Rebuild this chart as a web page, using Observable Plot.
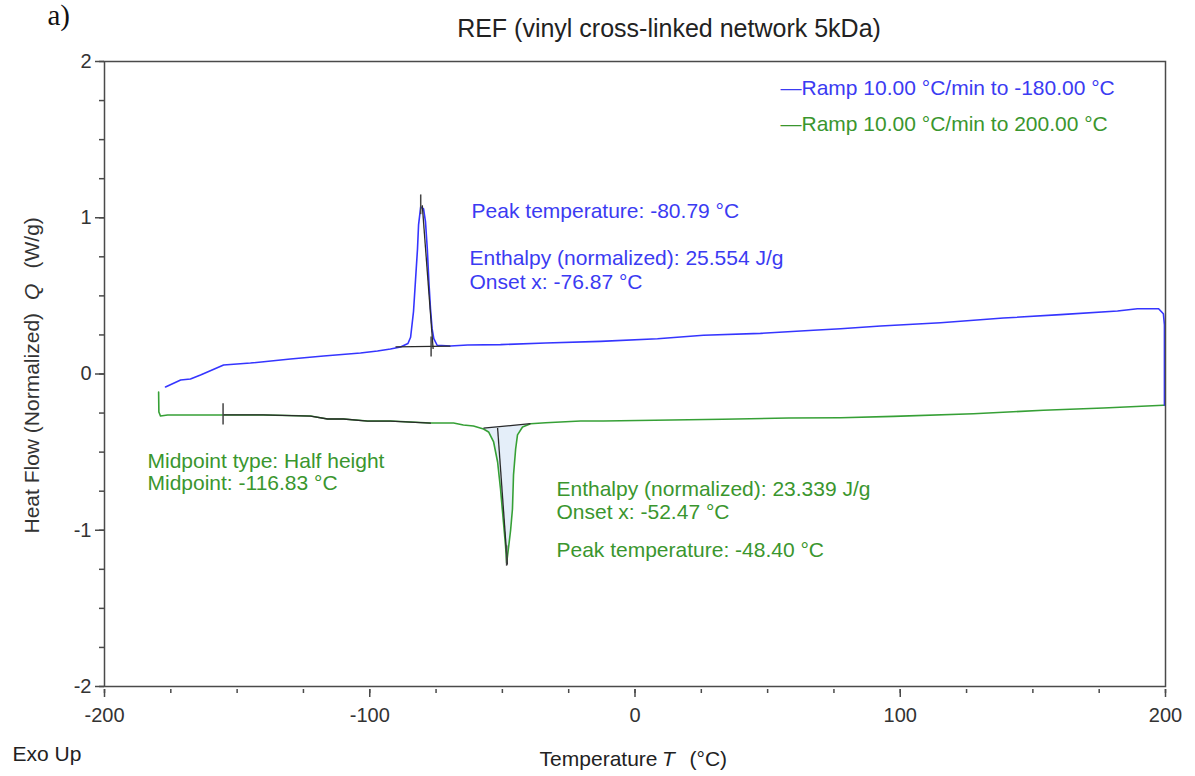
<!DOCTYPE html>
<html>
<head>
<meta charset="utf-8">
<script src="https://cdn.jsdelivr.net/npm/d3@7"></script>
<script src="https://cdn.jsdelivr.net/npm/@observablehq/plot@0.6"></script>
<style>
  body { margin: 0; background: #fff; }
</style>
</head>
<body>
<div id="chart"></div>
<script>
// DSC thermogram, vinyl cross-linked network (5 kDa): cooling and heating ramps.

// Cooling ramp (10 °C/min to -180 °C): temperature (°C) and normalized heat flow (W/g)
const coolT = [-177.0, -171.3, -167.6, -163.8, -155.1, -145.0, -129.9, -117.4, -103.5, -97.1,
  -92.2, -88.4, -85.6, -84.6, -83.5, -82.75, -82.0, -81.6, -80.79, -79.7, -78.98, -78.3, -77.7,
  -77.1, -76.5, -75.85, -74.6, -69.6, -63.1, -50.7, -33.7, -13.0, 8.5, 25.8, 47.3, 67.3,
  77.5, 92.6, 115.2, 138.9, 160.4, 181.9, 189.4, 197.4, 199.2, 199.6, 199.6];
const coolQ = [-0.083, -0.038, -0.032, -0.006, 0.058, 0.070, 0.096, 0.115, 0.134, 0.147,
  0.160, 0.173, 0.195, 0.235, 0.40, 0.60, 0.80, 0.954, 1.07, 1.056, 0.973, 0.80, 0.589,
  0.418, 0.29, 0.226, 0.184, 0.179, 0.186, 0.188, 0.198, 0.209, 0.226, 0.248, 0.260, 0.280,
  0.290, 0.307, 0.328, 0.358, 0.380, 0.403, 0.418, 0.418, 0.386, 0.314, -0.200];

// Heating ramp (10 °C/min to 200 °C)
const heatT = [-179.6, -179.5, -178.9, -176.2, -155.1, -140.1, -122.3, -115.9, -109.9, -100.8,
  -92.2, -77.1, -68.4, -64.7, -60.9, -57.1, -55.2, -53.3, -51.8, -50.7, -49.6, -48.8, -48.4,
  -47.6, -46.9, -46.2, -45.8, -45.0, -44.3, -42.4, -39.4, -33.7, -20.5, -11.9, 33.0, 57.9,
  77.5, 97.5, 127.6, 154.0, 176.6, 199.2, 199.6];
const heatQ = [-0.115, -0.243, -0.269, -0.262, -0.262, -0.262, -0.269, -0.288, -0.288, -0.301,
  -0.301, -0.314, -0.314, -0.326, -0.333, -0.352, -0.371, -0.435, -0.563, -0.736, -0.947, -1.10, -1.21,
  -1.10, -1.0, -0.864, -0.646, -0.48, -0.39, -0.339, -0.318, -0.312, -0.301, -0.301, -0.290, -0.282,
  -0.280, -0.271, -0.254, -0.232, -0.218, -0.200, -0.200];

// Evaluation lines (tangents and baselines) drawn by the analysis software
const evalT1 = [-90.3, -80.2, -57.1, -51.8];
const evalQ1 = [0.173, 1.08, -0.346, -0.346];
const evalT2 = [-69.6, -76.1, -39.4, -48.1];
const evalQ2 = [0.179, 0.16, -0.318, -1.22];

// Vertical evaluation markers: temperature, lower and upper heat flow
const markT = [-80.79, -76.87, -155.3, -48.4];
const markQ1 = [1.02, 0.109, -0.326, -1.23];
const markQ2 = [1.146, 0.237, -0.19, -1.10];

// Glass-transition evaluation range on the heating curve
const tgRange = [-155.1, -77.1];

// Peak integration limits of the melting endotherm
const meltRange = [-57.1, -39.4];
const meltBaseQ = [-0.346, -0.318];

// Result annotations
const annText = [
  "Peak temperature: -80.79 °C",
  "Enthalpy (normalized): 25.554 J/g",
  "Onset x: -76.87 °C",
  "Midpoint type: Half height",
  "Midpoint: -116.83 °C",
  "Enthalpy (normalized): 23.339 J/g",
  "Onset x: -52.47 °C",
  "Peak temperature: -48.40 °C"
];
const annT = [-61.6, -62.4, -62.4, -183.8, -183.8, -29.6, -29.6, -29.6];
const annQ = [1.043, 0.742, 0.589, -0.557, -0.698, -0.736, -0.883, -1.126];
const annSeries = ["cool", "cool", "cool", "heat", "heat", "heat", "heat", "heat"];

const legendLabels = ["Ramp 10.00 °C/min to -180.00 °C", "Ramp 10.00 °C/min to 200.00 °C"];

const xMajor = [-200, -100, 0, 100, 200];
const xMinor = d3.range(-200, 201, 25);
const yMajor = [-2, -1, 0, 1, 2];
const yMinor = d3.range(-2, 2.001, 0.25);

const BLUE = "#3535ff";
const GREEN = "#36a036";
const BLUE_TXT = "#3b3bf2";
const GREEN_TXT = "#3a962e";
const AXIS = "#4a4a4a";
const FONT = "Liberation Sans, Arial, sans-serif";
const plainNumber = d => String(d);

const cooling = coolT.map((T, i) => ({T, Q: coolQ[i]}));
const heating = heatT.map((T, i) => ({T, Q: heatQ[i]}));
const evalLines = evalT1.map((T, i) => ({T1: T, Q1: evalQ1[i], T2: evalT2[i], Q2: evalQ2[i]}));
const markers = markT.map((T, i) => ({T, Q1: markQ1[i], Q2: markQ2[i]}));
const annotations = annText.map((text, i) => ({text, T: annT[i], Q: annQ[i], s: annSeries[i]}));

const baseAt = T => meltBaseQ[0] + (meltBaseQ[1] - meltBaseQ[0]) * (T - meltRange[0]) / (meltRange[1] - meltRange[0]);
const meltArea = heating
  .filter(d => d.T >= meltRange[0] && d.T <= meltRange[1])
  .map(d => ({T: d.T, Q: d.Q, B: baseAt(d.T)}));
const tgSegment = heating.filter(d => d.T >= tgRange[0] && d.T <= tgRange[1]);

const chart = Plot.plot({
  width: 1195,
  height: 776,
  marginTop: 61,
  marginBottom: 90,
  marginLeft: 104,
  marginRight: 30,
  style: {fontFamily: FONT, fontSize: "20px", background: "#fff", color: "#333"},
  x: {domain: [-200, 200], label: null},
  y: {domain: [-2, 2], label: null},
  marks: [
    // shaded melting enthalpy
    Plot.areaY(meltArea, {x: "T", y1: "B", y2: "Q", fill: "#e4eef9"}),
    // data curves
    Plot.line(heating, {x: "T", y: "Q", stroke: GREEN, strokeWidth: 1.6}),
    Plot.line(cooling, {x: "T", y: "Q", stroke: BLUE, strokeWidth: 1.6}),
    Plot.line(tgSegment, {x: "T", y: "Q", stroke: "#2a2a2a", strokeWidth: 1.3}),
    Plot.link(evalLines, {x1: "T1", y1: "Q1", x2: "T2", y2: "Q2", stroke: "#2a2a2a", strokeWidth: 1.3}),
    Plot.ruleX(markers, {x: "T", y1: "Q1", y2: "Q2", stroke: "#444", strokeWidth: 1.5}),
    // frame and axes
    Plot.frame({stroke: AXIS, strokeWidth: 1.5}),
    Plot.axisY({ticks: yMajor, tickSize: 9, tickPadding: 4, fontSize: 20, label: null, stroke: AXIS, strokeWidth: 1.5, fill: "#333", tickFormat: plainNumber}),
    Plot.axisY({ticks: yMinor, tickSize: 5, fill: "none", label: null, stroke: AXIS, strokeWidth: 1.5}),
    Plot.axisX({ticks: xMajor, tickSize: 8, dy: 3, fill: "none", label: null, stroke: AXIS, strokeWidth: 1.5}),
    Plot.axisX({ticks: xMinor, tickSize: 4, dy: 3, fill: "none", label: null, stroke: AXIS, strokeWidth: 1.5}),
    Plot.axisX({ticks: xMajor, tickSize: 0, tickPadding: 21, fontSize: 20, label: null, fill: "#333", tickFormat: plainNumber}),
    // annotations
    Plot.text(annotations, {x: "T", y: "Q", text: "text", textAnchor: "start", lineAnchor: "middle",
      fontSize: 21, fill: d => d.s === "cool" ? BLUE_TXT : GREEN_TXT}),
    // legend
    Plot.text(["—" + legendLabels[0]], {frameAnchor: "top-left", dx: 676, dy: 27, textAnchor: "start", lineAnchor: "middle", fontSize: 21, fill: BLUE_TXT}),
    Plot.text(["—" + legendLabels[1]], {frameAnchor: "top-left", dx: 676, dy: 63, textAnchor: "start", lineAnchor: "middle", fontSize: 21, fill: GREEN_TXT}),
    // title and panel letter
    Plot.text(["REF (vinyl cross-linked network 5kDa)"], {frameAnchor: "top", dx: 34, dy: -33, lineAnchor: "middle", fontSize: 25, fill: "#222"}),
    Plot.text(["a)"], {frameAnchor: "top-left", dx: -57, dy: -46, textAnchor: "start", lineAnchor: "middle", fontSize: 29, fontFamily: "Liberation Serif, serif", fill: "#111"}),
    // axis titles
    Plot.text(["Temperature"], {frameAnchor: "bottom", dx: 22.5, dy: 73, textAnchor: "end", lineAnchor: "middle", fontSize: 21, fill: "#222"}),
    Plot.text(["T"], {frameAnchor: "bottom", dx: 27, dy: 73, textAnchor: "start", lineAnchor: "middle", fontSize: 21, fontStyle: "italic", fill: "#222"}),
    Plot.text(["(°C)"], {frameAnchor: "bottom", dx: 54.5, dy: 73, textAnchor: "start", lineAnchor: "middle", fontSize: 21, fill: "#222"}),
    Plot.text(["Heat Flow (Normalized)"], {frameAnchor: "left", dx: -72, dy: 159.5, rotate: -90, textAnchor: "start", lineAnchor: "middle", fontSize: 21, fill: "#333"}),
    Plot.text(["Q"], {frameAnchor: "left", dx: -72, dy: -74, rotate: -90, textAnchor: "start", lineAnchor: "middle", fontSize: 21, fontStyle: "italic", fill: "#333"}),
    Plot.text(["(W/g)"], {frameAnchor: "left", dx: -72, dy: -105.5, rotate: -90, textAnchor: "start", lineAnchor: "middle", fontSize: 21, fill: "#333"}),
    Plot.text(["Exo Up"], {frameAnchor: "bottom-left", dx: -92, dy: 68, textAnchor: "start", lineAnchor: "middle", fontSize: 21, fill: "#222"})
  ]
});

document.getElementById("chart").appendChild(chart);
</script>
</body>
</html>
